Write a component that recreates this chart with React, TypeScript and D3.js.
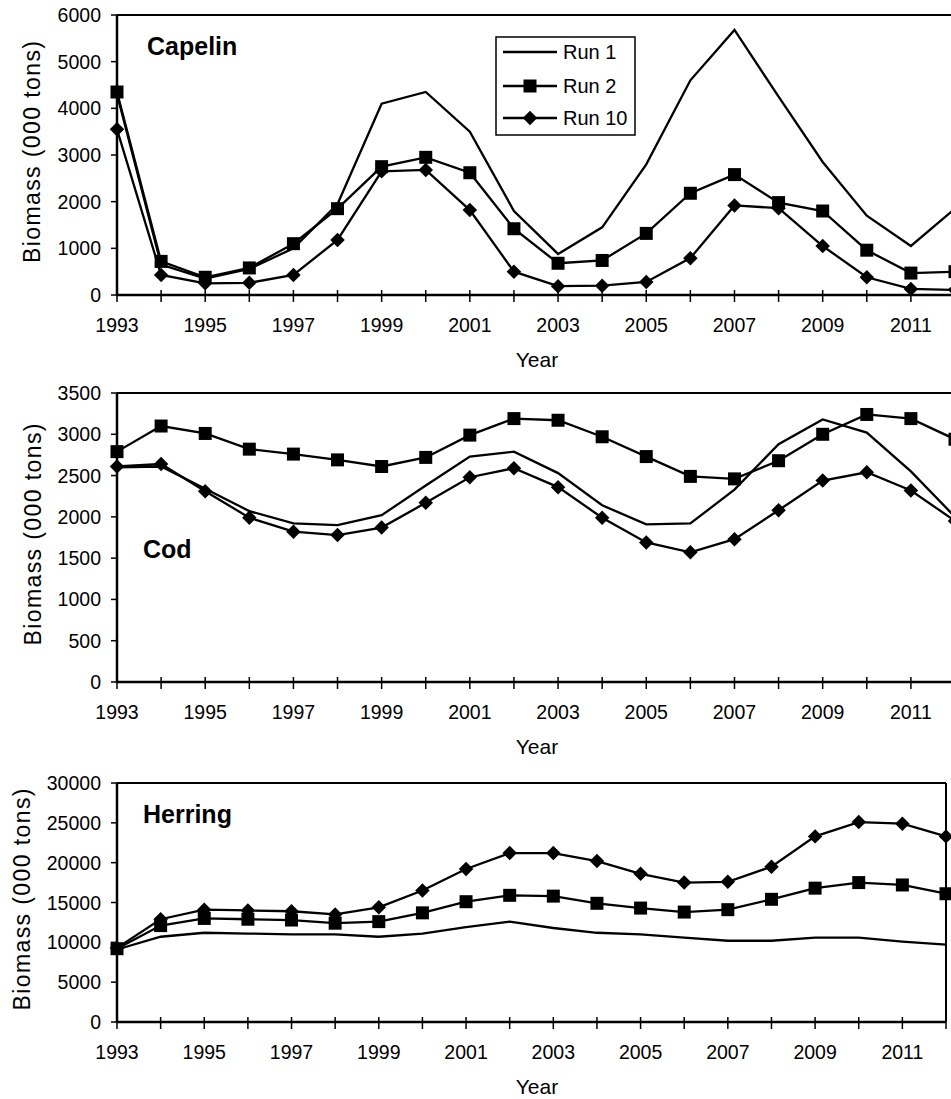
import React from 'react'
import * as d3 from 'd3'

// years on the x axis
const years = [1993, 1994, 1995, 1996, 1997, 1998, 1999, 2000, 2001, 2002, 2003, 2004, 2005, 2006, 2007, 2008, 2009, 2010, 2011, 2012]
const yearLabels = [1993, 1995, 1997, 1999, 2001, 2003, 2005, 2007, 2009, 2011]

// Capelin biomass (000 tons)
const capelinRun1 = [4300, 650, 350, 560, 1000, 1950, 4100, 4350, 3500, 1800, 880, 1450, 2800, 4600, 5680, 4250, 2850, 1700, 1050, 1850]
const capelinRun2 = [4350, 720, 380, 580, 1100, 1850, 2750, 2950, 2620, 1420, 680, 740, 1320, 2180, 2580, 1980, 1800, 960, 470, 500]
const capelinRun10 = [3550, 430, 250, 260, 430, 1180, 2650, 2680, 1820, 500, 190, 200, 280, 790, 1920, 1860, 1050, 380, 130, 110]
const capelinTicks = [0, 1000, 2000, 3000, 4000, 5000, 6000]

// Cod biomass (000 tons)
const codRun1 = [2600, 2610, 2340, 2070, 1920, 1900, 2020, 2380, 2730, 2790, 2530, 2140, 1910, 1920, 2330, 2880, 3180, 3020, 2550, 2000]
const codRun2 = [2790, 3100, 3010, 2820, 2760, 2690, 2610, 2720, 2990, 3190, 3170, 2970, 2730, 2490, 2460, 2680, 3000, 3240, 3190, 2940]
const codRun10 = [2610, 2640, 2310, 1990, 1820, 1780, 1870, 2170, 2480, 2590, 2360, 1990, 1690, 1570, 1730, 2080, 2440, 2540, 2320, 1950]
const codTicks = [0, 500, 1000, 1500, 2000, 2500, 3000, 3500]

// Herring biomass (000 tons)
const herringRun1 = [9100, 10700, 11200, 11100, 11000, 11000, 10700, 11100, 11900, 12600, 11800, 11200, 11000, 10600, 10200, 10200, 10600, 10600, 10100, 9700]
const herringRun2 = [9200, 12100, 13000, 12900, 12800, 12400, 12600, 13700, 15100, 15900, 15800, 14900, 14300, 13800, 14100, 15400, 16800, 17500, 17200, 16100]
const herringRun10 = [9300, 12900, 14100, 14000, 13900, 13500, 14400, 16500, 19200, 21200, 21200, 20200, 18600, 17500, 17600, 19500, 23300, 25100, 24900, 23300]
const herringTicks = [0, 5000, 10000, 15000, 20000, 25000, 30000]

const legendNames = ['Run 1', 'Run 2', 'Run 10']

const FONT = "'Liberation Sans', Arial, Helvetica, sans-serif"
const squarePath = d3.symbol(d3.symbolSquare, 169)()
const diamondPath = d3.symbol(d3.symbolSquare, 105)()

function Marker({ kind, x, y }) {
  if (kind === 'square') return <path d={squarePath} transform={`translate(${x},${y})`} fill="black" />
  if (kind === 'diamond') return <path d={diamondPath} transform={`translate(${x},${y}) rotate(45)`} fill="black" />
  return null
}

function Panel({ title, titleX, titleY, run1, run2, run10, ticks, top, bottom, right, labelX, showLegend }) {
  const left = 117
  const x = d3.scaleLinear().domain([years[0], years[years.length - 1]]).range([left, right])
  const y = d3.scaleLinear().domain([0, ticks[ticks.length - 1]]).range([bottom, top])
  const line = d3.line<number>().x((d, i) => x(years[i])).y(d => y(d))

  return (
    <g>
      {/* frame */}
      <line x1={left} x2={right} y1={top} y2={top} stroke="black" strokeWidth={2} />
      <line x1={right} x2={right} y1={top} y2={bottom} stroke="black" strokeWidth={2} />
      <line x1={left} x2={left} y1={top} y2={bottom + 1} stroke="black" strokeWidth={2.5} />
      <line x1={left - 1} x2={right} y1={bottom} y2={bottom} stroke="black" strokeWidth={2.5} />

      {/* y ticks */}
      {ticks.map(t => (
        <g key={t}>
          <line x1={left - 6} x2={left} y1={y(t)} y2={y(t)} stroke="black" strokeWidth={1.5} />
          <text x={101} y={y(t)} textAnchor="end" dominantBaseline="central" fontSize={19.5} fontFamily={FONT}>{t}</text>
        </g>
      ))}

      {/* x ticks */}
      {years.map(yr => (
        <line key={yr} x1={x(yr)} x2={x(yr)} y1={bottom - 5} y2={bottom + 7} stroke="black" strokeWidth={1.5} />
      ))}
      {yearLabels.map(yr => (
        <text key={yr} x={x(yr)} y={bottom + 30} textAnchor="middle" dominantBaseline="central" fontSize={19.5} fontFamily={FONT}>{yr}</text>
      ))}
      <text x={537} y={bottom + 64} textAnchor="middle" dominantBaseline="central" fontSize={21} fontFamily={FONT}>Year</text>

      <text transform={`translate(${labelX},${(top + bottom) / 2 - 3}) rotate(-90)`} textAnchor="middle" dominantBaseline="central"
        fontSize={23} fontFamily={FONT} textLength={222} lengthAdjust="spacing">Biomass (000 tons)</text>

      <text x={titleX} y={titleY} fontSize={25} fontWeight="bold" fontFamily={FONT}>{title}</text>

      {/* series */}
      <path d={line(run1)} fill="none" stroke="black" strokeWidth={2.3} />
      <path d={line(run2)} fill="none" stroke="black" strokeWidth={2.3} />
      <path d={line(run10)} fill="none" stroke="black" strokeWidth={2.3} />
      {run2.map((v, i) => <Marker key={'s' + i} kind="square" x={x(years[i])} y={y(v)} />)}
      {run10.map((v, i) => <Marker key={'d' + i} kind="diamond" x={x(years[i])} y={y(v)} />)}

      {showLegend && (
        <g>
          <rect x={496} y={37} width={139} height={98} fill="white" stroke="black" strokeWidth={1.5} />
          {legendNames.map((name, i) => {
            const ly = [52, 86, 118][i]
            return (
              <g key={name}>
                <line x1={503} x2={557} y1={ly} y2={ly} stroke="black" strokeWidth={2.3} />
                <Marker kind={['none', 'square', 'diamond'][i]} x={530} y={ly} />
                <text x={563} y={ly} dominantBaseline="central" fontSize={20} fontFamily={FONT}>{name}</text>
              </g>
            )
          })}
        </g>
      )}
    </g>
  )
}

export default function App() {
  return (
    <svg width={951} height={1099} style={{ position: 'absolute', left: 0, top: 0, background: 'white' }}>
      <rect width={951} height={1099} fill="white" />
      <Panel title="Capelin" titleX={147} titleY={55} run1={capelinRun1} run2={capelinRun2} run10={capelinRun10}
        ticks={capelinTicks} top={15} bottom={295} right={955} labelX={32} showLegend />
      <Panel title="Cod" titleX={143} titleY={558} run1={codRun1} run2={codRun2} run10={codRun10}
        ticks={codTicks} top={393} bottom={682} right={955} labelX={33} showLegend={false} />
      <Panel title="Herring" titleX={143} titleY={823} run1={herringRun1} run2={herringRun2} run10={herringRun10}
        ticks={herringTicks} top={783} bottom={1022} right={946} labelX={22} showLegend={false} />
    </svg>
  )
}
